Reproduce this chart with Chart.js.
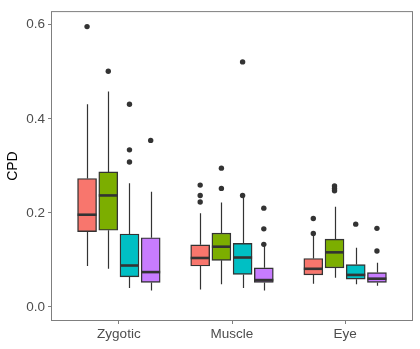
<html lang="en">
<head>
    <meta charset="UTF-8">
    <title>CPD boxplot</title>
    <script src="https://cdn.jsdelivr.net/npm/chart.js@4.4.1/dist/chart.umd.min.js"></script>
    <style>
        html, body { margin: 0; padding: 0; background: #fff; }
        #wrap { width: 420px; height: 349px; }
    </style>
</head>
<body>
    <div id="wrap"><canvas id="myChart"></canvas></div>

    <script>
        // categories on the x axis, one box per series inside each
        const categories = ['Zygotic', 'Muscle', 'Eye'];
        const yTicks = [0.0, 0.2, 0.4, 0.6];
        const colors = ['#F8766D', '#7CAE00', '#00BFC4', '#C77CFF'];

        // per series (red, green, cyan, purple), per category
        const whiskerLow = [
            [0.087, 0.037, 0.049],
            [0.081, 0.048, 0.062],
            [0.040, 0.040, 0.048],
            [0.035, 0.035, 0.045]
        ];
        const q1 = [
            [0.160, 0.087, 0.068],
            [0.163, 0.099, 0.083],
            [0.064, 0.069, 0.059],
            [0.052, 0.052, 0.052]
        ];
        const median = [
            [0.196, 0.104, 0.081],
            [0.237, 0.128, 0.116],
            [0.088, 0.105, 0.068],
            [0.074, 0.057, 0.060]
        ];
        const q3 = [
            [0.273, 0.132, 0.103],
            [0.287, 0.157, 0.144],
            [0.155, 0.135, 0.090],
            [0.147, 0.083, 0.073]
        ];
        const whiskerHigh = [
            [0.431, 0.199, 0.154],
            [0.458, 0.222, 0.213],
            [0.263, 0.235, 0.126],
            [0.245, 0.131, 0.094]
        ];
        const outliers = [
            [[0.596], [0.259, 0.237, 0.223], [0.188, 0.156]],
            [[0.501], [0.295, 0.252], [0.257, 0.252, 0.247]],
            [[0.431, 0.334, 0.308], [0.521, 0.237], [0.176]],
            [[0.354], [0.210, 0.166, 0.133], [0.167, 0.119]]
        ];

        // dodge offsets of each series around the category centre (x units)
        const dodge = [-0.28125, -0.09375, 0.09375, 0.28125];

        function xPos(s, c) { return c + 1 + dodge[s]; }

        const datasets = [];
        colors.forEach((col, s) => {
            datasets.push({
                type: 'bar',
                data: categories.map((_, c) => ({ x: xPos(s, c), y: [q1[s][c], q3[s][c]] })),
                backgroundColor: col,
                borderColor: '#333333',
                borderWidth: 1.4,
                borderSkipped: false,
                grouped: false,
                barThickness: 19,
                order: 2
            });
        });
        const outPts = [];
        outliers.forEach((ser, s) => ser.forEach((vals, c) => vals.forEach(v => outPts.push({ x: xPos(s, c), y: v }))));
        datasets.push({
            type: 'scatter',
            data: outPts,
            pointRadius: 2.7,
            pointBackgroundColor: '#333333',
            pointBorderWidth: 0,
            order: 1
        });

        const boxParts = {
            id: 'boxParts',
            beforeDatasetsDraw(chart) {
                const { ctx, scales: { x, y } } = chart;
                ctx.save();
                ctx.strokeStyle = '#333333';
                ctx.lineWidth = 1.2;
                colors.forEach((_, s) => categories.forEach((_, c) => {
                    const px = Math.round(x.getPixelForValue(xPos(s, c))) + 0.5;
                    ctx.beginPath();
                    ctx.moveTo(px, y.getPixelForValue(whiskerLow[s][c]));
                    ctx.lineTo(px, y.getPixelForValue(q1[s][c]));
                    ctx.moveTo(px, y.getPixelForValue(q3[s][c]));
                    ctx.lineTo(px, y.getPixelForValue(whiskerHigh[s][c]));
                    ctx.stroke();
                }));
                ctx.restore();
            },
            afterDatasetsDraw(chart) {
                const { ctx, scales: { x, y } } = chart;
                ctx.save();
                ctx.strokeStyle = '#333333';
                ctx.lineWidth = 2.6;
                colors.forEach((_, s) => categories.forEach((_, c) => {
                    const cx = xPos(s, c);
                    const py = y.getPixelForValue(median[s][c]);
                    const x0 = x.getPixelForValue(cx) - 9.5;
                    ctx.beginPath();
                    ctx.moveTo(x0, py);
                    ctx.lineTo(x0 + 19, py);
                    ctx.stroke();
                }));
                const a = chart.chartArea;
                ctx.strokeStyle = '#7f7f7f';
                ctx.lineWidth = 1;
                ctx.strokeRect(a.left + 0.5, a.top + 0.5, a.right - a.left - 1, a.bottom - a.top - 1);
                ctx.restore();
            }
        };

        const tickFont = { family: "'Liberation Sans', Arial, sans-serif", size: 13.5 };

        new Chart(document.getElementById('myChart'), {
            data: { datasets: datasets },
            options: {
                responsive: true,
                maintainAspectRatio: false,
                animation: false,
                layout: { padding: { top: 6, right: 7, left: 0, bottom: 0 } },
                plugins: { legend: { display: false }, tooltip: { enabled: false } },
                scales: {
                    x: {
                        type: 'linear',
                        offset: false,
                        min: 0.4,
                        max: 3.6,
                        afterBuildTicks: (axis) => { axis.ticks = categories.map((_, i) => ({ value: i + 1 })); },
                        afterFit: (axis) => { axis.height = 28; },
                        ticks: {
                            color: '#4d4d4d',
                            font: tickFont,
                            padding: 2,
                            callback: (v) => categories[Math.round(v) - 1]
                        },
                        grid: { offset: false, drawOnChartArea: false, tickLength: 3, tickColor: '#7f7f7f' },
                        border: { display: false }
                    },
                    y: {
                        type: 'linear',
                        min: -0.03,
                        max: 0.629,
                        afterBuildTicks: (axis) => { axis.ticks = yTicks.map(v => ({ value: v })); },
                        afterFit: (axis) => { axis.width = 51; },
                        ticks: {
                            color: '#4d4d4d',
                            font: tickFont,
                            padding: 3,
                            callback: (v) => v.toFixed(1)
                        },
                        grid: { drawOnChartArea: false, tickLength: 3, tickColor: '#7f7f7f' },
                        border: { display: false },
                        title: {
                            display: true,
                            text: 'CPD',
                            color: '#000',
                            font: { family: "'Liberation Sans', Arial, sans-serif", size: 14 },
                            padding: { top: 5, bottom: 0 }
                        }
                    }
                }
            },
            plugins: [boxParts]
        });
    </script>
</body>
</html>
